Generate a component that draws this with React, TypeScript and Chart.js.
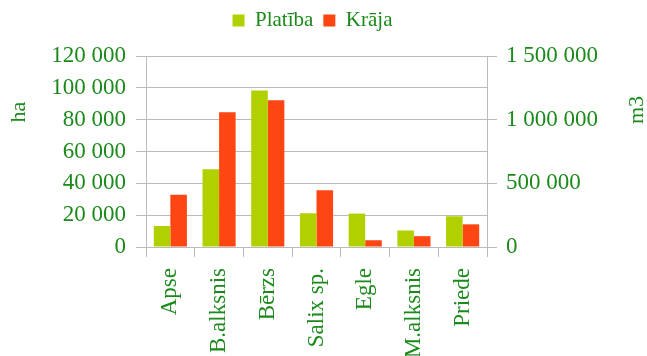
import React, { useEffect, useRef } from "react";
import { Chart, registerables } from "chart.js";

Chart.register(...registerables);

const categories = ["Apse", "B.alksnis", "Bērzs", "Salix sp.", "Egle", "M.alksnis", "Priede"];
const platiba = [13200, 48800, 98400, 21200, 21000, 10400, 19300];
const kraja = [410000, 1058000, 1152000, 445000, 53000, 85000, 178000];
const leftTitle = "ha";
const rightTitle = "m3";

const TEXT = "#1b8a1b";
const GRID = "#bababa";
const FONT = "'Liberation Serif', 'Times New Roman', serif";

const fmt = (v: number) => String(v).replace(/\B(?=(\d{3})+(?!\d))/g, " ");

const axisTitles = {
  id: "axisTitles",
  afterDraw(chart: any) {
    const ctx = chart.ctx;
    ctx.save();
    ctx.fillStyle = TEXT;
    ctx.font = `22px ${FONT}`;
    ctx.textAlign = "center";
    ctx.textBaseline = "middle";
    const draw = (t: string, x: number, y: number) => {
      ctx.save();
      ctx.translate(x, y);
      ctx.rotate(-Math.PI / 2);
      ctx.fillText(t, 0, 0);
      ctx.restore();
    };
    draw(leftTitle, 19, 112);
    draw(rightTitle, 637, 110);
    ctx.restore();
  },
};

export default function App() {
  const ref = useRef<HTMLCanvasElement | null>(null);
  useEffect(() => {
    if (!ref.current) return;
    Chart.defaults.font.family = FONT;
    const chart = new Chart(ref.current, {
      type: "bar",
      data: {
        labels: categories,
        datasets: [
          {
            label: "Platība",
            data: platiba,
            backgroundColor: "#b2d000",
            yAxisID: "y",
            categoryPercentage: 0.68,
            barPercentage: 1.0,
          },
          {
            label: "Krāja",
            data: kraja,
            backgroundColor: "#ff4512",
            yAxisID: "y1",
            categoryPercentage: 0.68,
            barPercentage: 1.0,
          },
        ],
      },
      options: {
        responsive: false,
        animation: false,
        layout: { padding: { top: 0, left: 0, right: 22, bottom: 0 } },
        plugins: {
          legend: {
            position: "top",
            weight: 3000,
            labels: {
              boxWidth: 12,
              boxHeight: 12,
              padding: 10,
              color: TEXT,
              font: { size: 21, family: FONT },
            },
          },
          subtitle: {
            display: true,
            text: " ",
            position: "top",
            font: { size: 1, lineHeight: 1 },
            padding: { top: 0, bottom: 14 },
          },
          tooltip: { enabled: false },
        },
        scales: {
          x: {
            offset: true,
            grid: {
              offset: true,
              drawOnChartArea: false,
              drawTicks: true,
              tickLength: 10,
              color: GRID,
            },
            border: { display: false },
            ticks: {
              color: TEXT,
              font: { size: 23, family: FONT },
              minRotation: 90,
              maxRotation: 90,
              autoSkip: false,
              padding: 11,
            },
            afterFit(scale: any) {
              scale.height = 109;
            },
          },
          y: {
            position: "left",
            min: 0,
            max: 120000,
            ticks: {
              stepSize: 20000,
              color: TEXT,
              font: { size: 23, family: FONT },
              padding: 10,
              callback: (v: any) => fmt(Number(v)),
            },
            grid: { color: GRID, tickLength: 10 },
            border: { display: true, color: GRID },
            afterFit(scale: any) {
              scale.width = 146;
            },
          },
          y1: {
            position: "right",
            min: 0,
            max: 1500000,
            ticks: {
              stepSize: 500000,
              color: TEXT,
              font: { size: 23, family: FONT },
              padding: 9,
              callback: (v: any) => fmt(Number(v)),
            },
            grid: { drawOnChartArea: false, color: GRID, tickLength: 10 },
            border: { display: true, color: GRID },
            afterFit(scale: any) {
              scale.width = 138;
            },
          },
        },
      },
      plugins: [axisTitles],
    });
    return () => chart.destroy();
  }, []);
  return (
    <div style={{ position: "fixed", left: 0, top: 0, width: 647, height: 356, background: "#fff" }}>
      <canvas ref={ref} width={647} height={356} style={{ display: "block" }} />
    </div>
  );
}
